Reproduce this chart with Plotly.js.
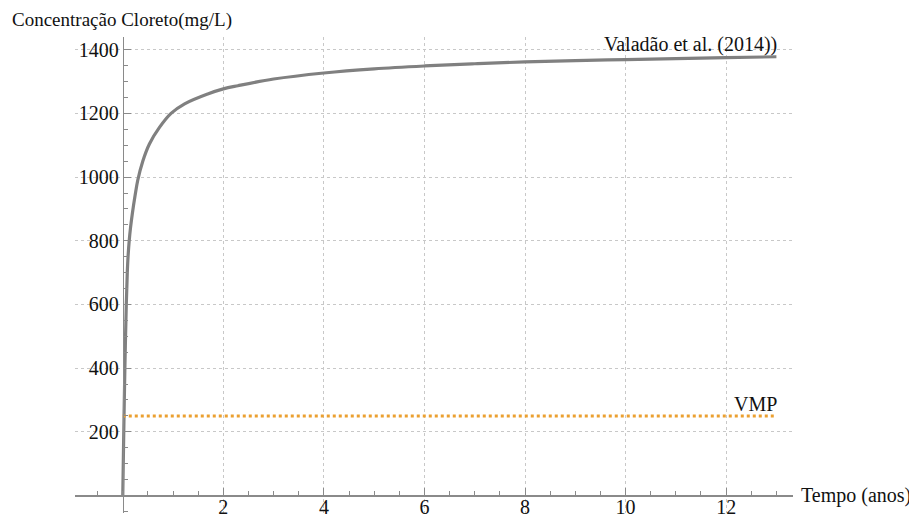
<!DOCTYPE html>
<html>
<head>
<meta charset="utf-8">
<script src="https://cdn.plot.ly/plotly-3.0.1.min.js"></script>
<style>html,body{margin:0;padding:0;background:#fff;}#chart{width:909px;height:515px;}</style>
</head>
<body>
<div id="chart"></div>
<script>
// Curve: Valadão et al. (2014)
const tempoAnos = [0, 0.02, 0.042, 0.07, 0.09, 0.105, 0.128, 0.155, 0.19, 0.245, 0.298, 0.398, 0.53, 0.73, 0.96, 1.23, 1.69, 2.0, 2.29, 3, 4, 5, 6, 7, 8, 9, 10, 11, 12, 13];
const cloreto = [0, 200, 400, 600, 700, 750, 800, 842, 885, 942, 990, 1050, 1104, 1156, 1200, 1230, 1261, 1277, 1287, 1308, 1327, 1340, 1349, 1356, 1362, 1366, 1369, 1372, 1375, 1378];
// VMP reference line
const vmpX = [0, 13];
const vmpY = [250, 250];
const xTicks = [2, 4, 6, 8, 10, 12];
const yTicks = [200, 400, 600, 800, 1000, 1200, 1400];

const serif = "Liberation Serif, Times New Roman, serif";
const L = 75, R = 116, T = 37, B = 2;
const xr = [-0.95, 13.33], yr = [-55, 1440];

const traces = [
  {x: tempoAnos, y: cloreto, mode: 'lines', line: {color: '#808080', width: 3.2, shape: 'spline', smoothing: 1}, hoverinfo: 'skip'},
  {x: vmpX, y: vmpY, mode: 'lines', line: {color: '#EBA030', width: 3, dash: 'dot'}, hoverinfo: 'skip'}
];

const xPos = (0 - yr[0]) / (yr[1] - yr[0]);
const yPos = (0 - xr[0]) / (xr[1] - xr[0]);
const tf = {family: serif, size: 20, color: '#111'};

const layout = {
  width: 909, height: 515,
  margin: {l: L, r: R, t: T, b: B},
  paper_bgcolor: '#fff', plot_bgcolor: '#fff',
  showlegend: false,
  font: tf,
  xaxis: {
    range: xr, anchor: 'free', position: xPos,
    tickvals: xTicks, ticktext: xTicks.map(String),
    showline: true, linecolor: '#8a8a8a', linewidth: 1.5,
    ticks: 'inside', ticklen: 7, tickcolor: '#8a8a8a', tickwidth: 1,
    minor: {dtick: 0.5, tick0: 0, ticks: 'inside', ticklen: 4, tickcolor: '#8a8a8a', showgrid: false},
    showgrid: true, gridcolor: '#c8c8c8', griddash: 'dot', gridwidth: 1,
    zeroline: false, tickfont: tf, ticklabelstandoff: -7
  },
  yaxis: {
    range: yr, anchor: 'free', position: yPos,
    tickvals: yTicks, ticktext: yTicks.map(String),
    showline: true, linecolor: '#8a8a8a', linewidth: 1.5,
    ticks: 'inside', ticklen: 7, tickcolor: '#8a8a8a', tickwidth: 1,
    minor: {dtick: 50, tick0: 0, ticks: 'inside', ticklen: 4, tickcolor: '#8a8a8a', showgrid: false},
    showgrid: true, gridcolor: '#c8c8c8', griddash: 'dot', gridwidth: 1,
    zeroline: false, tickfont: tf
  },
  annotations: [
    {text: 'Concentração Cloreto(mg/L)', xref: 'paper', yref: 'paper', x: (10 - L) / (909 - L - R), y: (515 - B - 20) / (515 - T - B), xanchor: 'left', yanchor: 'middle', showarrow: false, font: {family: serif, size: 19, color: '#111'}},
    {text: 'Tempo (anos)', xref: 'paper', yref: 'y', x: (799 - L) / (909 - L - R), y: 0, xanchor: 'left', yanchor: 'middle', showarrow: false, font: tf},
    {text: 'Valadão et al. (2014))', xref: 'x', yref: 'y', x: 13.05, y: 1418, xanchor: 'right', yanchor: 'middle', showarrow: false, font: tf},
    {text: 'VMP', xref: 'x', yref: 'y', x: 13.05, y: 286, xanchor: 'right', yanchor: 'middle', showarrow: false, font: tf}
  ]
};

Plotly.newPlot('chart', traces, layout, {displayModeBar: false, staticPlot: true});
</script>
</body>
</html>
